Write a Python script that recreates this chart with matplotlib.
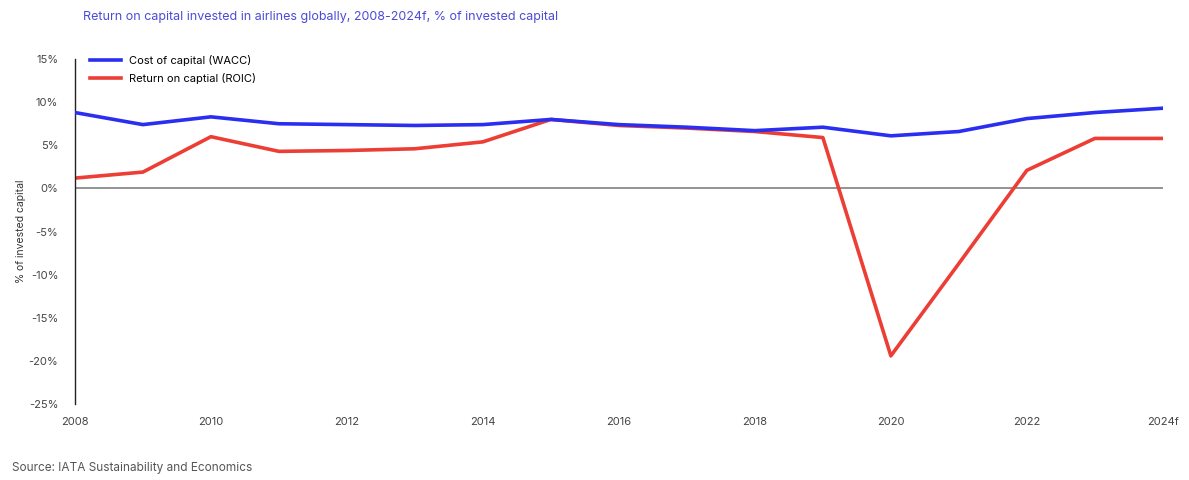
import matplotlib.pyplot as plt
from matplotlib.ticker import FuncFormatter

years = list(range(2008, 2025))
wacc = [8.8, 7.4, 8.3, 7.5, 7.4, 7.3, 7.4, 8.0, 7.4, 7.1, 6.7, 7.1, 6.1, 6.6, 8.1, 8.8, 9.3]
roic = [1.2, 1.9, 6.0, 4.3, 4.4, 4.6, 5.4, 8.0, 7.3, 7.0, 6.6, 5.9, -19.4, -8.7, 2.1, 5.8, 5.8]
tick_years = [2008, 2010, 2012, 2014, 2016, 2018, 2020, 2022, 2024]
tick_labels = ['2008', '2010', '2012', '2014', '2016', '2018', '2020', '2022', '2024f']

plt.rcParams['font.family'] = ['Inter', 'DejaVu Sans']

fig = plt.figure(figsize=(11.89, 4.8), dpi=100)
ax = fig.add_axes([0.063, 0.158, 0.915, 0.719])

ax.axhline(0, color='#8a8a8a', lw=1.3, zorder=1)
ax.plot(years, wacc, color='#2a2ef0', lw=2.6, label='Cost of capital (WACC)', zorder=3)
ax.plot(years, roic, color='#ec3e35', lw=2.6, label='Return on captial (ROIC)', zorder=2)

ax.set_xlim(2008, 2024)
ax.set_ylim(-25, 15)
ax.set_yticks(range(-25, 20, 5))
ax.yaxis.set_major_formatter(FuncFormatter(lambda v, p: f'{int(v)}%'))
ax.set_xticks(tick_years)
ax.set_xticklabels(tick_labels)
ax.tick_params(axis='both', length=0, labelsize=8, colors='#444444')
ax.tick_params(axis='x', pad=9)
ax.tick_params(axis='y', pad=12)

for s in ['top', 'right', 'bottom']:
    ax.spines[s].set_visible(False)
ax.spines['left'].set_color('#222222')
ax.spines['left'].set_linewidth(1)

ax.set_ylabel('% of invested capital', fontsize=7.5, color='#333333', labelpad=2)

ax.legend(loc='upper left', bbox_to_anchor=(0.005, 1.04), frameon=False, fontsize=8,
          handlelength=2.8, labelspacing=0.6, handletextpad=0.7)

fig.text(0.07, 0.965, 'Return on capital invested in airlines globally, 2008-2024f, % of invested capital',
         fontsize=9, color='#4b4bd8', va='center')
fig.text(0.01, 0.025, 'Source: IATA Sustainability and Economics', fontsize=8.5,
         color='#555555', va='center')

fig.savefig('out.png', dpi=100)
